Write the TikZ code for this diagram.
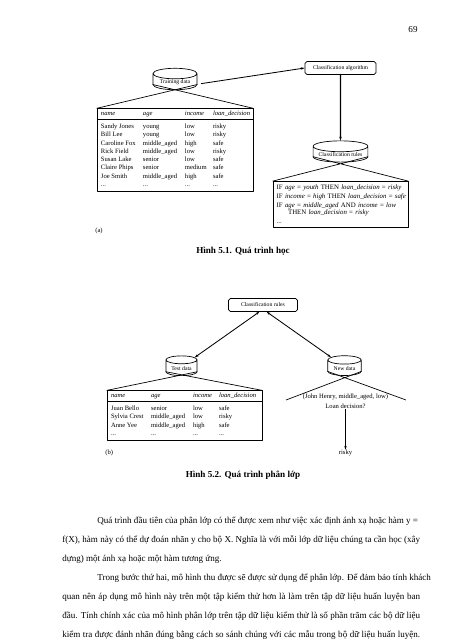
\documentclass[tikz,border=0pt]{standalone}
\usepackage{fontspec}
\setmainfont{Liberation Serif}
\usetikzlibrary{shapes.geometric,arrows.meta,positioning}
\tikzset{
 db/.style={cylinder,shape border rotate=90,draw,aspect=0.33,inner sep=1pt,font=\fontsize{7.5}{9}\selectfont},
 algbox/.style={draw,rounded corners=2.5pt,minimum height=17pt,inner sep=1pt,font=\fontsize{7.5}{9}\selectfont},
 tbl/.style={draw,inner sep=0pt,font=\fontsize{8.7}{10.9}\selectfont},
 rulebox/.style={draw,inner sep=0pt,font=\fontsize{9}{11}\selectfont,align=left},
 lbl/.style={inner sep=0pt,font=\fontsize{8.7}{10}\selectfont},
 figcap/.style={inner sep=0pt,font=\fontsize{12}{14}\selectfont\bfseries},
 body/.style={inner sep=0pt,anchor=base west,font=\fontsize{11.9}{14}\selectfont},
 conn/.style={line width=1.1pt},
 vconn/.style={line width=1.5pt},
}
\newcommand{\jline}[1]{\makebox[471pt][s]{#1}}
\begin{document}
\begin{tikzpicture}[x=1.3164pt,y=1.3164pt,line join=round,>={Stealth[length=5pt,width=3.2pt]},line width=0.9pt]
 \def\W{452}\def\H{640}
 \fill[white] (0,0) rectangle (\W,-\H);
 \node[inner sep=0pt,font=\fontsize{12}{14}\selectfont] (pg) at (413,-30) {69};
 \node[db,minimum width=58pt,minimum height=27.6pt] (trn) at (175,-82.5) {Training data};
 \node[tbl] (trtab) at (175,-150) {\begin{tabular}{@{\hspace{5.3pt}}p{55.3pt}@{}p{55.3pt}@{}p{36.9pt}@{}p{47.4pt}@{\hspace{5.3pt}}}
 \rule{0pt}{9pt}\textit{name} & \textit{age} & \textit{income} & \textit{loan\_decision}\\[1.5pt]
 \hline
 \rule{0pt}{12pt}Sandy Jones & young & low & risky\\
 Bill Lee & young & low & risky\\
 Caroline Fox & middle\_aged & high & safe\\
 Rick Field & middle\_aged & low & risky\\
 Susan Lake & senior & low & safe\\
 Claire Phips & senior & medium & safe\\
 Joe Smith & middle\_aged & high & safe\\
 ... & ... & ... & ...\\[3pt]
 \end{tabular}};
 \node[algbox,minimum width=93.5pt] (alg) at (340.5,-68) {Classification algorithm};
 \node[db,aspect=0.24,minimum width=72pt,minimum height=28pt] (rul) at (340.5,-155) {Classification rules};
 \node[rulebox,text width=178pt] (rbox) at (340.5,-204.5) {\rule{0pt}{10pt}\hspace{5pt}IF \textit{age} = \textit{youth} THEN \textit{loan\_decision} = \textit{risky}\\[1pt]
 \hspace{5pt}IF \textit{income} = \textit{high} THEN \textit{loan\_decision} = \textit{safe}\\[1pt]
 \hspace{5pt}IF \textit{age} = \textit{middle\_aged} AND \textit{income} = \textit{low}\\[-1.5pt]
 \hspace{20pt}THEN \textit{loan\_decision} = \textit{risky}\\[1pt]
 \hspace{5pt}...\rule[-5pt]{0pt}{5pt}};
 \draw (trn.before bottom) -- (trtab.north west) (trn.after bottom) -- (trtab.north east);
 \draw[conn,->] ([xshift=5pt,yshift=-1.5pt]trn.east) -- (alg.west);
 \draw[vconn,->] (alg) -- (rul);
 \draw (rul.before bottom) -- (rbox.north west) (rul.after bottom) -- (rbox.north east);
 \node[lbl,anchor=west] (la) at (95,-231) {(a)};
 \node[figcap] (cap1) at (243,-251) {Hình 5.1. Quá trình học};
 \node[algbox,minimum width=91pt] (cr2) at (263,-305) {Classification rules};
 \node[db,aspect=0.36,minimum width=41pt,minimum height=26pt] (tst) at (181.5,-368.5) {Test data};
 \node[db,aspect=0.36,minimum width=44pt,minimum height=26pt] (new) at (344.5,-368.5) {New data};
 \node[tbl] (tstab) at (184.5,-415.5) {\begin{tabular}{@{\hspace{5.3pt}}p{52.7pt}@{}p{55.3pt}@{}p{34.2pt}@{}p{51.3pt}@{\hspace{5.3pt}}}
 \rule{0pt}{9pt}\textit{name} & \textit{age} & \textit{income} & \textit{loan\_decision}\\[1.5pt]
 \hline
 \rule{0pt}{12pt}Juan Bello & senior & low & safe\\
 Sylvia Crest & middle\_aged & low & risky\\
 Anne Yee & middle\_aged & high & safe\\
 ... & ... & ... & ...\\[3pt]
 \end{tabular}};
 \draw (tst.before bottom) -- (tstab.north west) (tst.after bottom) -- (tstab.north east);
 \draw[conn,<->] (cr2.-118) -- (tst.40);
 \draw[conn,<->] (cr2.-62) -- (new.140);
 \coordinate (nl) at (286,-400);
 \coordinate (nr) at (406,-400);
 \draw (new.before bottom) -- (nl) (new.after bottom) -- (nr);
 \node[lbl] (jh) at (345.5,-397) {(John Henry, middle\_aged, low)};
 \node[lbl] (ld) at (345.5,-406.5) {Loan decision?};
 \node[lbl] (rk) at (345.5,-453) {risky};
 \draw[vconn,->] (ld) -- (rk);
 \node[lbl,anchor=west] (lb) at (105,-453) {(b)};
 \node[figcap] (cap2) at (243,-475) {Hình 5.2. Quá trình phân lớp};
 \node[body] (p1) at (97,-523.5) {Quá trình đầu tiên của phân lớp có thể được xem như việc xác định ánh xạ hoặc hàm y =};
 \node[body] (p2) at (62,-542.5) {\jline{f(X), hàm này có thể dự đoán nhãn y cho bộ X. Nghĩa là với mỗi lớp dữ liệu chúng ta cần học (xây}};
 \node[body] (p3) at (62,-561.5) {dựng) một ánh xạ hoặc một hàm tương ứng.};
 \node[body] (p4) at (97,-580.5) {Trong bước thứ hai, mô hình thu được sẽ được sử dụng để phân lớp. Để đảm bảo tính khách};
 \node[body] (p5) at (62,-599.5) {\jline{quan nên áp dụng mô hình này trên một tập kiểm thử hơn là làm trên tập dữ liệu huấn luyện ban}};
 \node[body] (p6) at (62,-618.5) {\jline{đầu. Tính chính xác của mô hình phân lớp trên tập dữ liệu kiểm thử là số phần trăm các bộ dữ liệu}};
 \node[body] (p7) at (62,-637.5) {\jline{kiểm tra được đánh nhãn đúng bằng cách so sánh chúng với các mẫu trong bộ dữ liệu huấn luyện.}};
\end{tikzpicture}
\end{document}
